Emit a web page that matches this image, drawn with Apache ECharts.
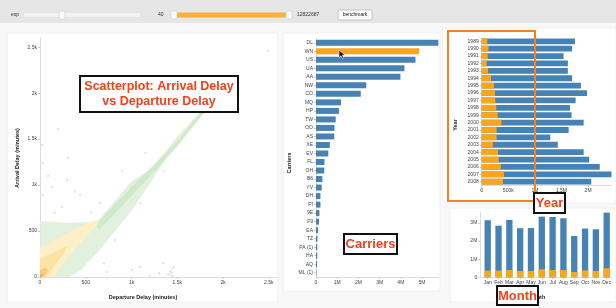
<!DOCTYPE html>
<html>
<head>
<meta charset="utf-8">
<script src="https://cdn.jsdelivr.net/npm/echarts@6/dist/echarts.min.js"></script>
<style>
html, body { margin: 0; padding: 0; background: #f8f8f8; }
#chart { width: 616px; height: 308px; }
</style>
</head>
<body>
<div id="chart"></div>
<script>
// scatter: departure delay vs arrival delay (minutes), density regions + sparse points
const delayTicks = [0, 500, 1000, 1500, 2000, 2500]
const greenBand = [[0, 0], [0, 610], [120, 600], [300, 590], [620, 600], [820, 830], [1000, 1040], [1250, 1200], [1500, 1530], [1650, 1690], [1790, 1850], [1800, 1790], [1600, 1560], [1400, 1330], [1250, 1090], [1000, 720], [800, 480], [650, 290], [450, 80], [330, 0]]
const greenRidge = [[600, 560], [1000, 980], [1500, 1480], [1780, 1820], [1790, 1790], [1500, 1420], [1000, 880], [650, 520]]
const yellowBand = [[0, 0], [0, 310], [150, 400], [300, 480], [500, 580], [660, 630], [620, 560], [450, 380], [300, 220], [160, 0]]
const deepYellow = [[0, 0], [0, 200], [150, 270], [300, 340], [240, 230], [110, 60], [70, 0]]
const orangeCore = [[0, 0], [0, 80], [50, 100], [90, 80], [60, 25], [35, 0]]
const darkCore = [[0, 0], [0, 30], [25, 35], [35, 15], [20, 0]]
const greenPoints = [[2490, 2460], [197, 1609], [22, 1435], [306, 1293], [33, 1239], [33, 891], [131, 978], [295, 1054], [437, 891], [655, 804], [819, 402], [1004, 76], [1092, 109], [731, 54], [1343, 152], [1430, 20], [1440, 50], [1445, 90], [1450, 10], [1420, 60], [1400, 30], [1200, 15], [1300, 40], [560, 700], [900, 1150], [1150, 1350], [1700, 1820], [1850, 1900], [1100, 800], [1350, 1150], [240, 760], [90, 1100], [380, 930], [1900, 2000], [160, 700], [700, 150], [1460, 110]]

// carriers: number of flights
const carriers = ['DL', 'WN', 'US', 'UA', 'AA', 'NW', 'CO', 'MQ', 'HP', 'TW', 'OO', 'AS', 'XE', 'EV', 'FL', 'OH', 'B6', 'YV', 'DH', 'PI', '9E', 'F9', 'EA', 'TZ', 'PA (1)', 'HA', 'AQ', 'ML (1)']
const carrierFlights = [5770000, 4860000, 4690000, 4170000, 3980000, 2370000, 2110000, 1180000, 1080000, 930000, 870000, 860000, 650000, 580000, 400000, 390000, 300000, 270000, 210000, 210000, 160000, 140000, 100000, 70000, 60000, 60000, 50000, 20000]
const selectedCarrier = 'WN'
const carrierTicks = [0, 1000000, 2000000, 3000000, 4000000, 5000000]

// years: all flights and flights of the selected carrier
const years = ['1989', '1990', '1991', '1992', '1993', '1994', '1995', '1996', '1997', '1998', '1999', '2000', '2001', '2002', '2003', '2004', '2005', '2006', '2007', '2008']
const yearTotal = [1754000, 1700000, 1540000, 1620000, 1620000, 1700000, 1866000, 1980000, 1766000, 1660000, 1690000, 1917000, 1635000, 1290000, 1430000, 1917000, 2020000, 2220000, 2440000, 2060000]
const yearSelected = [106000, 125000, 113000, 94000, 118000, 175000, 230000, 250000, 256000, 275000, 300000, 370000, 280000, 280000, 210000, 306000, 320000, 360000, 420000, 400000]
const yearTicks = [0, 500000, 1000000, 1500000, 2000000]

// months
const months = ['Jan', 'Feb', 'Mar', 'Apr', 'May', 'Jun', 'Jul', 'Aug', 'Sep', 'Oct', 'Nov', 'Dec']
const monthTotal = [3150000, 2850000, 3170000, 2710000, 2720000, 3350000, 3330000, 3260000, 2280000, 2690000, 2650000, 3570000]
const monthSelected = [370000, 370000, 400000, 350000, 350000, 440000, 400000, 400000, 290000, 380000, 350000, 500000]
const monthTicks = [0, 1000000, 2000000, 3000000]

const BLUE = '#4682b4'
const ORANGE = '#ffa51c'
const RED = '#f4401c'
const FONT = 'Liberation Sans, Arial, sans-serif'

function fmtK(v) {
  return v >= 1000 ? v / 1000 + 'k' : String(v)
}
function fmtCount(v) {
  if (v >= 1e6) return v / 1e6 + 'M'
  if (v >= 1e3) return v / 1e3 + 'k'
  return String(v)
}

const lineStyle = { show: true, lineStyle: { color: '#dcdcdc', width: 1 } }
const tickStyle = { show: true, length: 2, lineStyle: { color: '#cccccc' } }
const labelStyle = { fontSize: 5, color: '#444', fontFamily: FONT, margin: 3 }

function valueAxis(grid, max, ticks, fmt, extra) {
  return Object.assign({
    type: 'value',
    gridIndex: grid,
    min: 0,
    max: max,
    splitLine: { show: false },
    axisLine: lineStyle,
    axisTick: Object.assign({ customValues: ticks }, tickStyle),
    axisLabel: Object.assign({ customValues: ticks, formatter: fmt }, labelStyle)
  }, extra || {})
}

function categoryAxis(grid, data, extra) {
  return Object.assign({
    type: 'category',
    gridIndex: grid,
    data: data,
    axisLine: lineStyle,
    axisTick: Object.assign({ alignWithLabel: true }, tickStyle),
    axisLabel: Object.assign({ interval: 0 }, labelStyle)
  }, extra || {})
}

function region(points, color, opacity) {
  return {
    type: 'custom',
    xAxisIndex: 0,
    yAxisIndex: 0,
    silent: true,
    clip: true,
    data: points,
    renderItem: function(params, api) {
      if (params.dataIndex !== 0) return
      return {
        type: 'polygon',
        shape: { points: points.map(p => api.coord(p)) },
        style: { fill: color, opacity: opacity }
      }
    }
  }
}

function boxLabel(x, y, w, h, text, size) {
  return {
    type: 'group',
    z: 100,
    children: [
      { type: 'rect', z: 100, shape: { x: x, y: y, width: w, height: h }, style: { fill: '#fff', stroke: '#111', lineWidth: 2 } },
      { type: 'text', z: 101, x: x + w / 2, y: y + h / 2 + 0.5, style: { text: text, fill: RED, fontSize: size, fontWeight: 'bold', fontFamily: FONT, align: 'center', verticalAlign: 'middle', lineHeight: 15 } }
    ]
  }
}

function axisTitle(x, y, text, rotated) {
  return {
    type: 'text', z: 10, x: x, y: y, rotation: rotated ? Math.PI / 2 : 0,
    style: { text: text, fill: '#222', fontSize: 5.5, fontWeight: 'bold', fontFamily: FONT, align: 'center', verticalAlign: 'middle' }
  }
}

function panel(x, y, w, h) {
  return { type: 'rect', z: -10, shape: { x: x, y: y, width: w, height: h }, style: { fill: '#fff', stroke: '#f0f0f0', lineWidth: 1 } }
}

const chart = echarts.init(document.getElementById('chart'))
chart.setOption({
  animation: false,
  backgroundColor: '#f8f8f8',
  grid: [
    { left: 40, top: 38, width: 238, height: 239 },
    { left: 316, top: 38.5, width: 123, height: 238.5 },
    { left: 481.7, top: 37.6, width: 130.3, height: 147.8 },
    { left: 482.3, top: 212.1, width: 129.8, height: 65.2 }
  ],
  xAxis: [
    valueAxis(0, 2600, delayTicks, fmtK),
    valueAxis(1, 5800000, carrierTicks, fmtCount),
    valueAxis(2, 2450000, yearTicks, fmtCount),
    categoryAxis(3, months)
  ],
  yAxis: [
    valueAxis(0, 2600, delayTicks, fmtK),
    categoryAxis(1, carriers, { inverse: true }),
    categoryAxis(2, years, { inverse: true }),
    valueAxis(3, 3600000, monthTicks, fmtCount, { offset: 2 })
  ],
  series: [
    region(greenBand, '#def0d9', 0.9),
    region(greenRidge, '#cde8c6', 0.85),
    region(yellowBand, '#fef0c6', 1),
    region(deepYellow, '#fde3a2', 1),
    region(orangeCore, '#fbcb7e', 1),
    region(darkCore, '#f6ae5a', 1),
    {
      type: 'scatter',
      xAxisIndex: 0,
      yAxisIndex: 0,
      symbol: 'rect',
      symbolSize: 2,
      itemStyle: { color: '#cbe8c3' },
      data: greenPoints
    },
    {
      type: 'bar',
      xAxisIndex: 1,
      yAxisIndex: 1,
      barWidth: 6,
      data: carrierFlights.map((v, i) => ({
        value: v,
        itemStyle: { color: carriers[i] === selectedCarrier ? ORANGE : BLUE }
      }))
    },
    {
      type: 'bar',
      xAxisIndex: 2,
      yAxisIndex: 2,
      barWidth: 5.8,
      barGap: '-100%',
      itemStyle: { color: BLUE },
      data: yearTotal
    },
    {
      type: 'bar',
      xAxisIndex: 2,
      yAxisIndex: 2,
      barWidth: 5.8,
      barGap: '-100%',
      itemStyle: { color: ORANGE },
      data: yearSelected
    },
    {
      type: 'bar',
      xAxisIndex: 3,
      yAxisIndex: 3,
      barWidth: 6.3,
      barGap: '-100%',
      itemStyle: { color: BLUE },
      data: monthTotal
    },
    {
      type: 'bar',
      xAxisIndex: 3,
      yAxisIndex: 3,
      barWidth: 6.3,
      barGap: '-100%',
      itemStyle: { color: ORANGE },
      data: monthSelected
    }
  ],
  graphic: [
    // panels
    panel(7, 33, 271, 269),
    panel(283, 33, 157, 258),
    panel(443, 28, 173, 175),
    panel(450, 208, 166, 94),
    // top control bar
    { type: 'rect', z: -5, shape: { x: 0, y: 0, width: 616, height: 23 }, style: { fill: '#e6e6e6' } },
    { type: 'text', z: 5, x: 11, y: 15, style: { text: 'exp', fontSize: 5, fill: '#333', fontFamily: FONT, verticalAlign: 'middle' } },
    { type: 'rect', z: 5, shape: { x: 23, y: 12.5, width: 118, height: 5, r: 2.5 }, style: { fill: '#f3f3f3', stroke: '#d8d8d8', lineWidth: 0.5 } },
    { type: 'rect', z: 6, shape: { x: 59, y: 11, width: 6, height: 8, r: 1.5 }, style: { fill: '#fafafa', stroke: '#c4c4c4', lineWidth: 0.5 } },
    { type: 'text', z: 5, x: 158, y: 15, style: { text: '40', fontSize: 5, fill: '#333', fontFamily: FONT, verticalAlign: 'middle' } },
    { type: 'rect', z: 5, shape: { x: 174, y: 12.5, width: 114, height: 5 }, style: { fill: '#fbb23a' } },
    { type: 'rect', z: 6, shape: { x: 171, y: 11, width: 6, height: 8, r: 1.5 }, style: { fill: '#fafafa', stroke: '#c4c4c4', lineWidth: 0.5 } },
    { type: 'rect', z: 6, shape: { x: 286, y: 11, width: 6, height: 8, r: 1.5 }, style: { fill: '#fafafa', stroke: '#c4c4c4', lineWidth: 0.5 } },
    { type: 'text', z: 5, x: 297, y: 15, style: { text: '12822687', fontSize: 5, fill: '#333', fontFamily: FONT, verticalAlign: 'middle' } },
    { type: 'rect', z: 5, shape: { x: 338, y: 10, width: 34, height: 10, r: 1.5 }, style: { fill: '#f9f9f9', stroke: '#a8a8a8', lineWidth: 0.6 } },
    { type: 'text', z: 6, x: 355, y: 15, style: { text: 'benchmark', fontSize: 5, fill: '#222', fontFamily: FONT, align: 'center', verticalAlign: 'middle' } },
    // axis titles
    axisTitle(17, 158, 'Arrival Delay (minutes)', true),
    axisTitle(143, 297, 'Departure Delay (minutes)', false),
    axisTitle(289, 163, 'Carriers', true),
    axisTitle(455, 125, 'Year', true),
    axisTitle(537, 297, 'Month', false),
    // brush selection on the year chart
    { type: 'rect', z: 50, shape: { x: 448, y: 31, width: 87, height: 170 }, style: { fill: 'none', stroke: '#f5821f', lineWidth: 2 } },
    // mouse pointer
    { type: 'polygon', z: 60, shape: { points: [[339, 50], [339, 57.5], [341, 55.8], [342.6, 58.6], [343.8, 58], [342.3, 55.2], [344.8, 55.2]] }, style: { fill: '#111', stroke: '#fff', lineWidth: 0.5 } },
    // annotation boxes
    boxLabel(80, 76, 158, 36, 'Scatterplot: Arrival Delay\nvs Departure Delay', 12.5),
    boxLabel(344, 234, 53, 20, 'Carriers', 13),
    boxLabel(534, 193, 31, 20, 'Year', 13),
    boxLabel(497, 286, 41, 19, 'Month', 13)
  ]
})
</script>
</body>
</html>
